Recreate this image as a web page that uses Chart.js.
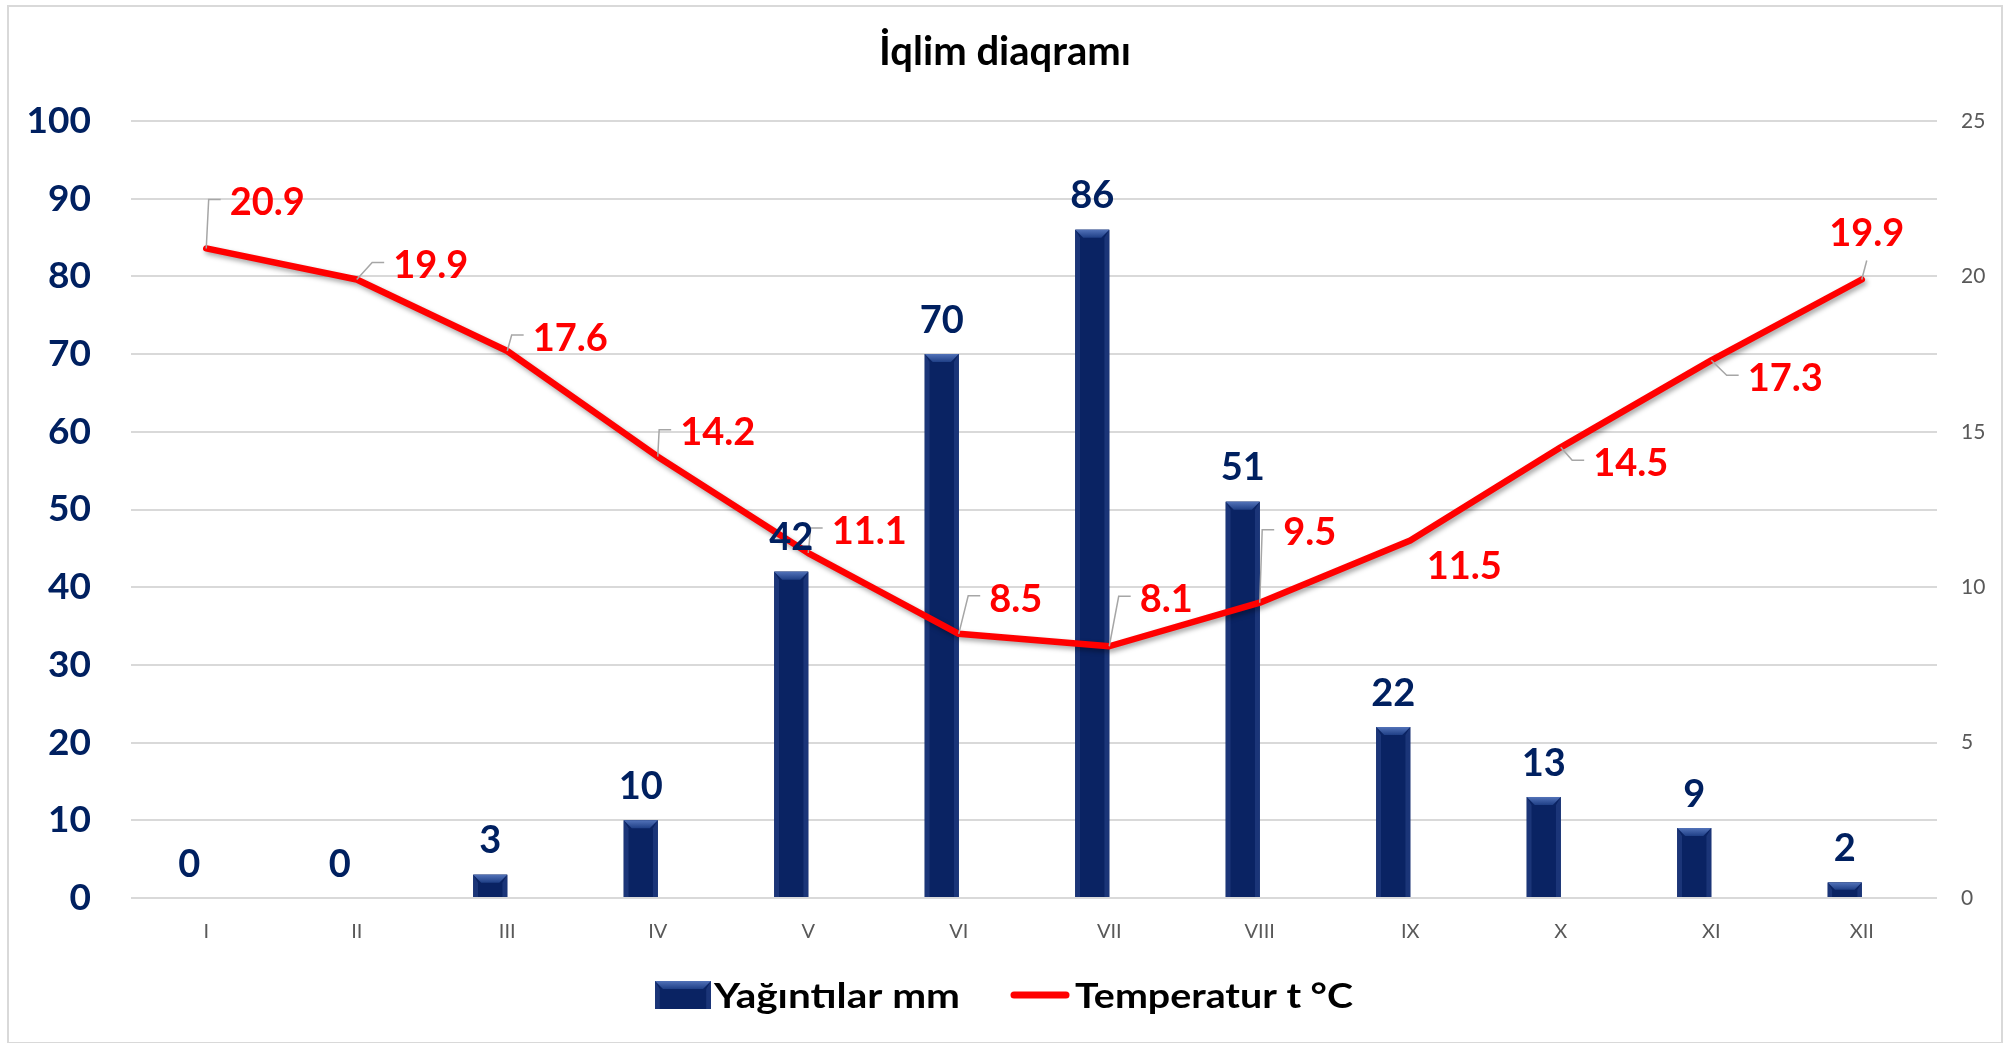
<!DOCTYPE html>
<html>
<head>
<meta charset="utf-8">
<script src="https://cdn.jsdelivr.net/npm/chart.js@4.4.1/dist/chart.umd.min.js"></script>
<style>
  html, body { margin: 0; padding: 0; background: #ffffff; }
  #wrap { position: relative; width: 2010px; height: 1043px; }
</style>
</head>
<body>
<div id="wrap"><canvas id="c" width="2010" height="1043"></canvas></div>
<script>
// ---------------- data ----------------
const chartTitle = 'İqlim diaqramı';
const months = ['I', 'II', 'III', 'IV', 'V', 'VI', 'VII', 'VIII', 'IX', 'X', 'XI', 'XII'];
const precipitation = [0, 0, 3, 10, 42, 70, 86, 51, 22, 13, 9, 2];
const temperature = [20.9, 19.9, 17.6, 14.2, 11.1, 8.5, 8.1, 9.5, 11.5, 14.5, 17.3, 19.9];
const precipTicks = [0, 10, 20, 30, 40, 50, 60, 70, 80, 90, 100];
const tempTicks = [0, 5, 10, 15, 20, 25];
const precipLabel = 'Yağıntılar mm';
const tempLabel = 'Temperatur t °C';

// label placement for temperature values (offset of label centre from its point)
const tempLabelLayout = [
  { dx: 61, dy: -47, leader: 'side' },
  { dx: 74, dy: -15, leader: 'side' },
  { dx: 63, dy: -14, leader: 'side' },
  { dx: 60, dy: -25, leader: 'side' },
  { dx: 61, dy: -23, leader: 'side' },
  { dx: 57, dy: -36, leader: 'side' },
  { dx: 57, dy: -48, leader: 'side' },
  { dx: 50, dy: -71, leader: 'side' },
  { dx: 54, dy: 25, leader: 'none' },
  { dx: 70, dy: 15, leader: 'side' },
  { dx: 74, dy: 17, leader: 'side' },
  { dx: 5, dy: -47, leader: 'below' }
];

// ---------------- styles ----------------
const NAVY = '#0a2363';
const NAVY_TEXT = '#002060';
const RED = '#ff0000';
const GRID = '#d9d9d9';
const GREY_TEXT = '#595959';
const FONT = 'Lato';

function drawBevelBar(ctx, left, top, width, height) {
  ctx.save();
  ctx.fillStyle = NAVY;
  ctx.fillRect(left, top, width, height);
  const b = Math.min(8, height / 2, width / 4);
  if (b > 0.5) {
    const g = ctx.createLinearGradient(0, top, 0, top + b);
    g.addColorStop(0, '#5272b8');
    g.addColorStop(1, '#1f3f86');
    ctx.fillStyle = g;
    ctx.beginPath();
    ctx.moveTo(left, top);
    ctx.lineTo(left + width, top);
    ctx.lineTo(left + width - b, top + b);
    ctx.lineTo(left + b, top + b);
    ctx.closePath();
    ctx.fill();
    ctx.fillStyle = 'rgba(60,90,160,0.35)';
    ctx.beginPath();
    ctx.moveTo(left, top);
    ctx.lineTo(left + b * 0.6, top + b);
    ctx.lineTo(left + b * 0.6, top + height);
    ctx.lineTo(left, top + height);
    ctx.closePath();
    ctx.fill();
    ctx.beginPath();
    ctx.moveTo(left + width, top);
    ctx.lineTo(left + width - b * 0.6, top + b);
    ctx.lineTo(left + width - b * 0.6, top + height);
    ctx.lineTo(left + width, top + height);
    ctx.closePath();
    ctx.fill();
  }
  ctx.restore();
}

const framePlugin = {
  id: 'frame',
  beforeDraw(chart) {
    const ctx = chart.ctx;
    ctx.save();
    ctx.fillStyle = '#ffffff';
    ctx.fillRect(0, 0, chart.width, chart.height);
    ctx.strokeStyle = '#d9d9d9';
    ctx.lineWidth = 2;
    ctx.strokeRect(8, 6, chart.width - 16, chart.height - 6);
    ctx.restore();
  }
};

const effectsPlugin = {
  id: 'effects',
  beforeDatasetDraw(chart, args) {
    if (chart.data.datasets[args.index].type === 'line') {
      const ctx = chart.ctx;
      ctx.save();
      ctx.shadowColor = 'rgba(0,0,0,0.35)';
      ctx.shadowBlur = 5;
      ctx.shadowOffsetX = 2;
      ctx.shadowOffsetY = 3;
    }
  },
  afterDatasetDraw(chart, args) {
    const ds = chart.data.datasets[args.index];
    const ctx = chart.ctx;
    if (ds.type === 'line') {
      ctx.restore();
    } else if (args.index === 0) {
      args.meta.data.forEach(el => {
        const p = el.getProps(['x', 'y', 'base', 'width'], true);
        const h = p.base - p.y;
        if (h > 0.5) drawBevelBar(ctx, p.x - p.width / 2, p.y, p.width, h);
      });
    }
  }
};

const valueLabelPlugin = {
  id: 'valueLabels',
  afterDatasetsDraw(chart) {
    const ctx = chart.ctx;
    ctx.save();
    const lineMeta = chart.getDatasetMeta(2);
    const tSize = 38;
    ctx.font = 'bold ' + tSize + 'px ' + FONT;
    ctx.textAlign = 'center';
    ctx.textBaseline = 'alphabetic';
    lineMeta.data.forEach((pt, i) => {
      const v = chart.data.datasets[2].data[i];
      const L = tempLabelLayout[i];
      const txt = v.toFixed(1);
      const w = ctx.measureText(txt).width;
      const cx = pt.x + L.dx, cy = pt.y + L.dy;
      const left = cx - w / 2;
      ctx.strokeStyle = '#a6a6a6';
      ctx.lineWidth = 1.5;
      if (L.leader === 'side') {
        ctx.beginPath();
        ctx.moveTo(pt.x, pt.y);
        ctx.lineTo(left - 21, cy - 2);
        ctx.lineTo(left - 9, cy - 2);
        ctx.stroke();
      } else if (L.leader === 'below') {
        ctx.beginPath();
        ctx.moveTo(pt.x, pt.y);
        ctx.lineTo(cx, cy + 28);
        ctx.stroke();
      }
      ctx.fillStyle = RED;
      ctx.fillText(txt, cx, cy + 0.36 * tSize);
    });
    const barMeta = chart.getDatasetMeta(0);
    const bSize = 38;
    ctx.font = 'bold ' + bSize + 'px ' + FONT;
    ctx.fillStyle = NAVY_TEXT;
    barMeta.data.forEach((el, i) => {
      const v = chart.data.datasets[0].data[i];
      ctx.fillText(String(v), el.x, el.y - 35 + 0.36 * bSize);
    });
    ctx.restore();
  }
};

const legendPlugin = {
  id: 'customLegend',
  afterDraw(chart, args, opts) {
    const ctx = chart.ctx;
    ctx.save();
    drawBevelBar(ctx, opts.barX, opts.boxTop, opts.barW, 28);
    ctx.font = 'bold 35px ' + FONT;
    ctx.fillStyle = '#000000';
    ctx.textAlign = 'left';
    ctx.textBaseline = 'alphabetic';
    const w1 = ctx.measureText(precipLabel).width;
    ctx.save();
    ctx.translate(opts.text1X, opts.baseline);
    ctx.scale(opts.text1Width / w1, 1);
    ctx.fillText(precipLabel, 0, 0);
    ctx.restore();
    ctx.strokeStyle = RED;
    ctx.lineWidth = 7;
    ctx.lineCap = 'round';
    ctx.beginPath();
    ctx.moveTo(opts.lineX, opts.lineY);
    ctx.lineTo(opts.lineX2, opts.lineY);
    ctx.stroke();
    const w2 = ctx.measureText(tempLabel).width;
    ctx.save();
    ctx.translate(opts.text2X, opts.baseline);
    ctx.scale(opts.text2Width / w2, 1);
    ctx.fillText(tempLabel, 0, 0);
    ctx.restore();
    ctx.restore();
  }
};

const chart = new Chart(document.getElementById('c'), {
  data: {
    labels: months,
    datasets: [
      {
        type: 'bar',
        label: precipLabel,
        data: precipitation,
        yAxisID: 'y',
        backgroundColor: NAVY,
        borderWidth: 0,
        barPercentage: 1,
        categoryPercentage: 0.452,
        order: 2
      },
      {
        type: 'bar',
        label: '',
        data: [],
        yAxisID: 'y',
        barPercentage: 1,
        categoryPercentage: 0.452,
        order: 3
      },
      {
        type: 'line',
        label: tempLabel,
        data: temperature,
        yAxisID: 'y1',
        borderColor: RED,
        backgroundColor: RED,
        borderWidth: 6.5,
        borderCapStyle: 'round',
        borderJoinStyle: 'round',
        pointRadius: 0,
        tension: 0,
        order: 0
      }
    ]
  },
  options: {
    responsive: false,
    animation: false,
    devicePixelRatio: 1,
    layout: { padding: { left: 0, right: 0, top: 0, bottom: 77 } },
    plugins: {
      legend: { display: false },
      tooltip: { enabled: false },
      title: {
        display: true,
        text: chartTitle,
        color: '#000000',
        font: { family: FONT, size: 40, weight: 'bold', lineHeight: 1.2 },
        padding: { top: 28, bottom: 45 }
      },
      customLegend: {
        barX: 655, barW: 56, boxTop: 981, baseline: 1008,
        text1X: 714, text1Width: 246,
        lineX: 1014, lineX2: 1066, lineY: 995,
        text2X: 1075, text2Width: 278
      }
    },
    scales: {
      x: {
        type: 'category',
        offset: true,
        grid: { display: false, drawTicks: false },
        border: { display: false },
        ticks: { color: GREY_TEXT, font: { family: FONT, size: 20 }, padding: 22 }
      },
      y: {
        type: 'linear',
        position: 'left',
        min: 0,
        max: 100,
        afterBuildTicks(axis) { axis.ticks = precipTicks.map(v => ({ value: v })); },
        afterFit(axis) { axis.width = 131; },
        grid: { color: GRID, lineWidth: 2, drawTicks: false },
        border: { display: false },
        ticks: { color: NAVY_TEXT, font: { family: FONT, size: 37, weight: 'bold' }, padding: 40 }
      },
      y1: {
        type: 'linear',
        position: 'right',
        min: 0,
        max: 25,
        afterBuildTicks(axis) { axis.ticks = tempTicks.map(v => ({ value: v })); },
        afterFit(axis) { axis.width = 73; },
        grid: { drawOnChartArea: false, drawTicks: false },
        border: { display: false },
        ticks: { color: GREY_TEXT, font: { family: FONT, size: 21 }, padding: 24 }
      }
    }
  },
  plugins: [framePlugin, effectsPlugin, valueLabelPlugin, legendPlugin]
});
</script>
</body>
</html>
